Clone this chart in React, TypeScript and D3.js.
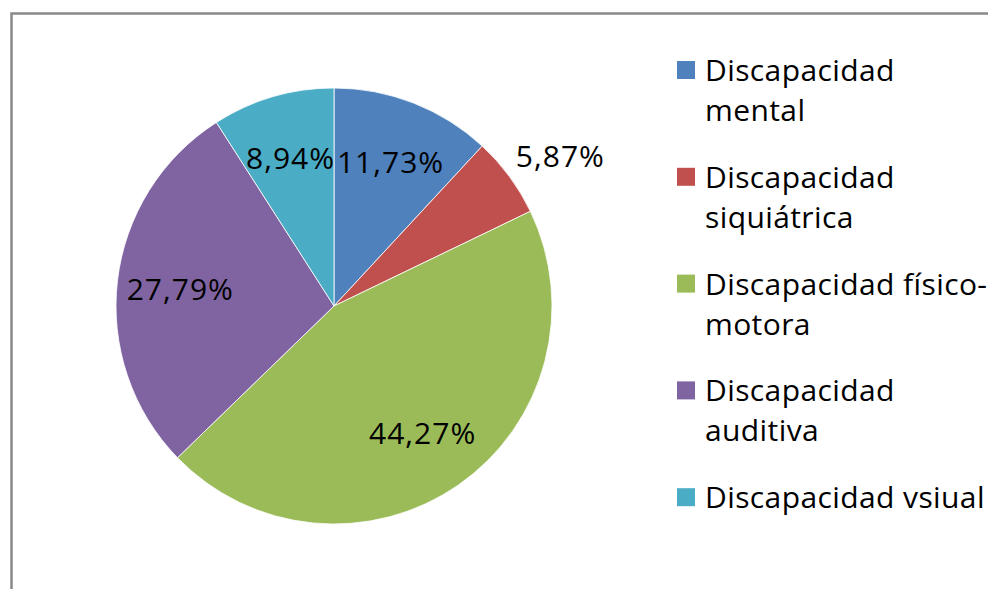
import React from "react";
import * as d3 from "d3";

const categories = [
  "Discapacidad mental",
  "Discapacidad siquiátrica",
  "Discapacidad físico-motora",
  "Discapacidad auditiva",
  "Discapacidad vsiual",
];
const legendLines = [
  ["Discapacidad", "mental"],
  ["Discapacidad", "siquiátrica"],
  ["Discapacidad físico-", "motora"],
  ["Discapacidad", "auditiva"],
  ["Discapacidad vsiual"],
];
const values = [11.73, 5.87, 44.27, 27.79, 8.94];
const colors = ["#4F81BD", "#C0504D", "#9BBB59", "#8064A2", "#4BACC6"];

const W = 988;
const H = 589;
const FONT = "'Open Sans', sans-serif";

export default function App() {
  const cx = 334;
  const cy = 306;
  const R = 218;
  const pie = d3.pie<number>().sort(null).value((d) => d);
  const arcs = pie(values);
  const arc = d3.arc<d3.PieArcDatum<number>>().innerRadius(0).outerRadius(R);
  const fmt = (v: number) => v.toFixed(2).replace(".", ",") + "%";

  const labelArc = d3.arc<d3.PieArcDatum<number>>().innerRadius(R * 0.71).outerRadius(R * 0.71);
  const outerArc = d3.arc<d3.PieArcDatum<number>>().innerRadius(R * 1.06).outerRadius(R * 1.06);

  const legendX = 677;
  const legendY0 = 70;
  const itemStep = 106.8;
  const lineStep = 40;

  return (
    <div style={{ position: "absolute", left: 0, top: 0, width: W, height: H, background: "#fff" }}>
      <svg width={W} height={H} style={{ display: "block" }}>
        <rect x={0} y={0} width={W} height={H} fill="#fff" />
        <rect x={11.5} y={13.5} width={W + 20} height={H + 20} fill="none" stroke="#898989" strokeWidth={2.5} />
        <g transform={`translate(${cx},${cy})`}>
          {arcs.map((a, i) => (
            <path key={categories[i]} d={arc(a) || ""} fill={colors[i]} stroke="#fff" strokeWidth={0.8} />
          ))}
          {arcs.map((a, i) => {
            const span = a.endAngle - a.startAngle;
            const outside = span < 0.45;
            if (outside) {
              const [x, y] = outerArc.centroid(a);
              return (
                <text
                  key={"l" + i}
                  x={x - 4}
                  y={y - 2}
                  textAnchor="start"
                  fontFamily={FONT}
                  fontSize={30}
                  letterSpacing={1}
                  fill="#000"
                >
                  {fmt(values[i])}
                </text>
              );
            }
            const [x, y] = labelArc.centroid(a);
            return (
              <text
                key={"l" + i}
                x={x}
                y={y}
                textAnchor="middle"
                dominantBaseline="central"
                fontFamily={FONT}
                fontSize={30}
                letterSpacing={1}
                fill="#000"
              >
                {fmt(values[i])}
              </text>
            );
          })}
        </g>
        <g>
          {legendLines.map((lines, i) => {
            const y = legendY0 + i * itemStep;
            return (
              <g key={"lg" + i}>
                <rect x={legendX} y={y - 9} width={18} height={18} fill={colors[i]} />
                {lines.map((t, j) => (
                  <text
                    key={j}
                    x={legendX + 28}
                    y={y + 11 + j * lineStep}
                    fontFamily={FONT}
                    fontSize={30}
                    letterSpacing={0.4}
                    fill="#000"
                  >
                    {t}
                  </text>
                ))}
              </g>
            );
          })}
        </g>
      </svg>
    </div>
  );
}
